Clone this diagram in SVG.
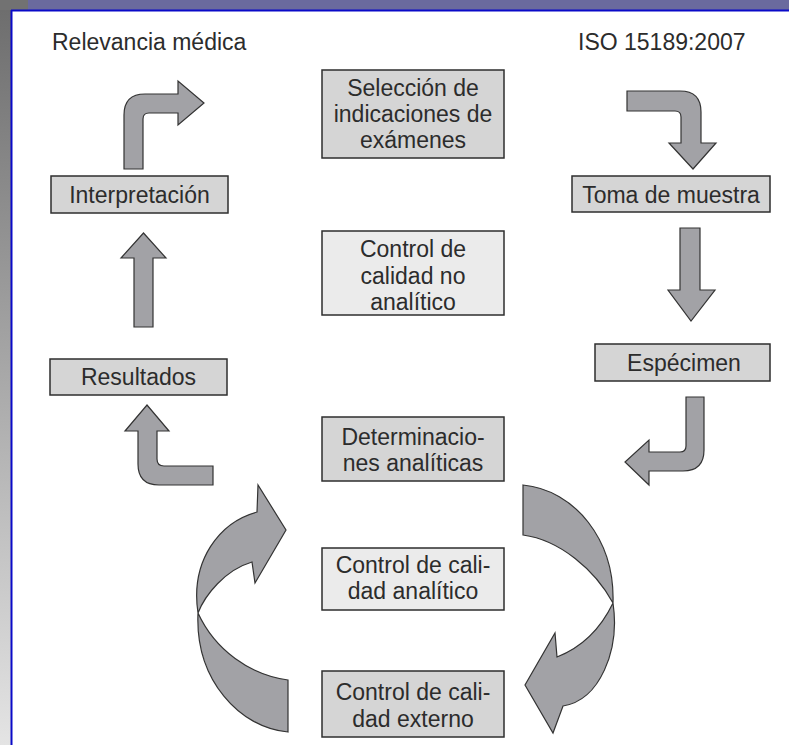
<svg xmlns="http://www.w3.org/2000/svg" width="789" height="745" viewBox="0 0 789 745">
<defs>
<linearGradient id="side" x1="0" y1="0" x2="0" y2="1">
<stop offset="0" stop-color="#6e6e6e"/>
<stop offset="0.6" stop-color="#b4b4b4"/>
<stop offset="1" stop-color="#e4e4e4"/>
</linearGradient>
</defs>
<style>
.box{stroke:#2e2e2e;stroke-width:1.5}
.dk{fill:#d5d5d5}
.lt{fill:#ebebeb}
.arr{fill:#a2a2a6;stroke:#333;stroke-width:1.2;stroke-linejoin:miter}
text{font-family:"Liberation Sans","Open Sans",sans-serif;font-size:23px;fill:#2c2c2c}
.c{text-anchor:middle}
</style>
<rect x="0" y="0" width="789" height="745" fill="#ffffff"/>
<rect x="0" y="0" width="789" height="10" fill="#6a6a9e"/>
<rect x="0" y="0" width="28" height="10" fill="#727272"/>
<rect x="0" y="10" width="11" height="735" fill="url(#side)"/>
<line x1="11.5" y1="10" x2="11.5" y2="745" stroke="#0a0ac8" stroke-width="2"/>
<line x1="11" y1="10.5" x2="789" y2="10.5" stroke="#0a0ac8" stroke-width="2"/>

<text x="52" y="50">Relevancia médica</text>
<text x="578" y="50">ISO 15189:2007</text>

<g id="seleccion">
<rect class="box dk" x="322" y="70" width="182" height="88"/>
<text class="c" x="413" y="96">Selección de</text>
<text class="c" x="413" y="122">indicaciones de</text>
<text class="c" x="413" y="148">exámenes</text>
</g>
<g id="control-no-analitico">
<rect class="box lt" x="322" y="231" width="182" height="84"/>
<text class="c" x="413" y="257">Control de</text>
<text class="c" x="413" y="284">calidad no</text>
<text class="c" x="413" y="310">analítico</text>
</g>
<g id="interpretacion">
<rect class="box dk" x="51" y="176" width="177" height="37"/>
<text class="c" x="139.5" y="203">Interpretación</text>
</g>
<g id="resultados">
<rect class="box dk" x="50" y="359" width="177" height="36"/>
<text class="c" x="138.5" y="385">Resultados</text>
</g>
<g id="toma">
<rect class="box dk" x="572" y="176" width="198" height="36"/>
<text class="c" x="671" y="203">Toma de muestra</text>
</g>
<g id="especimen">
<rect class="box dk" x="595" y="344" width="175" height="37"/>
<text class="c" x="684" y="371">Espécimen</text>
</g>
<g id="determinaciones">
<rect class="box dk" x="322" y="417" width="182" height="64"/>
<text class="c" x="413" y="445">Determinacio-</text>
<text class="c" x="413" y="471">nes analíticas</text>
</g>
<g id="control-analitico">
<rect class="box lt" x="322" y="548" width="182" height="62"/>
<text class="c" x="413" y="573">Control de cali-</text>
<text class="c" x="413" y="599">dad analítico</text>
</g>
<g id="control-externo">
<rect class="box dk" x="322" y="671" width="182" height="66"/>
<text class="c" x="413" y="700">Control de cali-</text>
<text class="c" x="413" y="727">dad externo</text>
</g>

<g id="connectors">
<path class="arr" d="M124,169 L124,115 Q124,94 145,94 L178,94 L178,81 L204,103 L178,125 L178,113 L149,113 Q143,113 143,119 L143,169 Z"/>
<path class="arr" d="M134,327 L134,258 L121,258 L143.5,233 L166,258 L153,258 L153,327 Z"/>
<path class="arr" d="M213,466 L164,466 Q157,466 157,459 L157,431 L169,431 L147,405 L125,431 L138,431 L138,464 Q138,485 159,485 L213,485 Z"/>
<path class="arr" d="M627,91 L680,91 Q701,91 701,112 L701,143 L716,143 L693,169 L669,143 L681,143 L681,117 Q681,111 675,111 L627,111 Z"/>
<path class="arr" d="M680,228 L700,228 L700,290 L715,290 L691,321 L668,290 L680,290 Z"/>
<path class="arr" d="M686,397 L704,397 L704,450 Q704,471 683,471 L649,471 L649,485 L625,462 L649,440 L649,452 L680,452 Q686,452 686,446 Z"/>
<path class="arr" d="M523,485 C575,490 615,540 613,603 C620,650 600,700 563,706 L553,733 L525,685 L555,633 L557,657 C580,648 600,630 613,603 C595,570 560,540 523,535 Z"/>
<path class="arr" d="M288,680 C250,675 215,650 198,613 C205,595 225,570 252,562 L255,583 L286,530 L258,485 L257,512 C220,522 190,560 198,613 C195,680 240,728 288,732 Z"/>
</g>
</svg>
